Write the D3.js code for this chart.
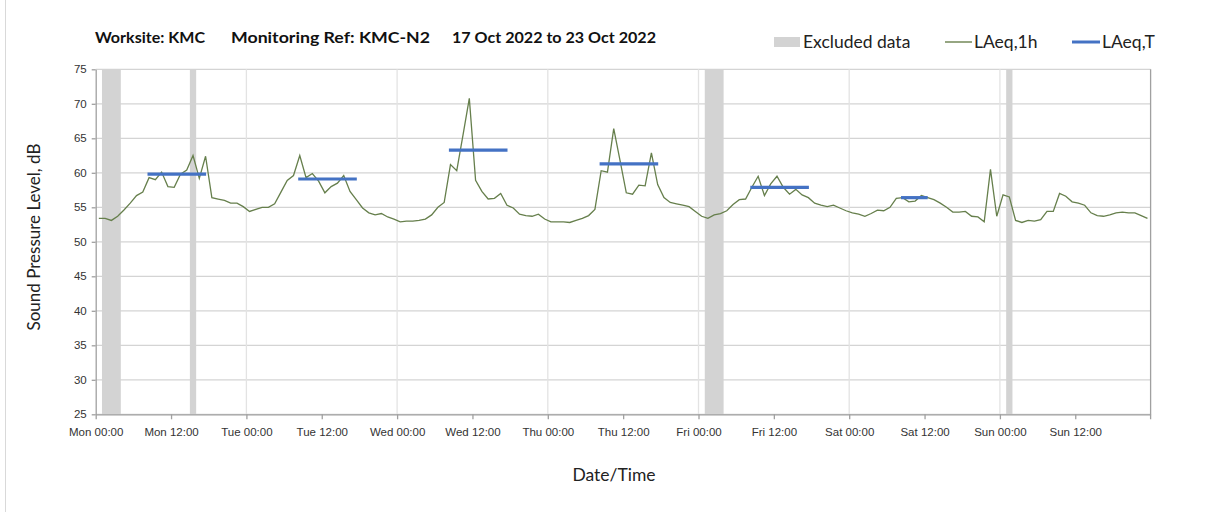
<!DOCTYPE html>
<html>
<head>
<meta charset="utf-8">
<script src="https://cdn.jsdelivr.net/npm/d3@7"></script>
<style>
  body { margin: 0; background: #fff; }
  svg { display: block; font-family: Lato, "Open Sans", sans-serif; }
</style>
</head>
<body>
<div class="container"></div>
<script>
// hourly LAeq,1h values, Mon 17 Oct 00:30 onwards (one per hour, 7 days)
const firstReading = new Date(2022, 9, 17, 0, 30);
const laeq1h = [
  // Mon
  53.4, 53.4, 53.1, 53.7, 54.6, 55.6, 56.7, 57.2, 59.3, 59.0, 60.1, 58.0,
  57.9, 59.8, 60.4, 62.5, 59.2, 62.4, 56.4, 56.2, 56.0, 55.6, 55.6, 55.1,
  // Tue
  54.4, 54.7, 55.0, 55.0, 55.5, 57.2, 58.9, 59.6, 62.5, 59.3, 59.9, 58.8,
  57.1, 58.0, 58.5, 59.6, 57.3, 56.1, 54.9, 54.2, 53.9, 54.1, 53.6, 53.3,
  // Wed
  52.9, 53.0, 53.0, 53.1, 53.3, 53.9, 55.0, 55.7, 61.2, 60.3, 65.5, 70.8,
  58.9, 57.3, 56.2, 56.3, 57.0, 55.3, 54.9, 54.0, 53.8, 53.7, 54.0, 53.3,
  // Thu
  52.9, 52.9, 52.9, 52.8, 53.1, 53.4, 53.8, 54.7, 60.3, 60.1, 66.4, 61.8,
  57.1, 56.9, 58.2, 58.1, 62.9, 58.3, 56.4, 55.7, 55.5, 55.3, 55.1, 54.4,
  // Fri
  53.7, 53.4, 53.9, 54.1, 54.5, 55.4, 56.1, 56.2, 57.9, 59.5, 56.7, 58.4,
  59.5, 57.9, 56.9, 57.6, 56.8, 56.4, 55.6, 55.3, 55.1, 55.3, 54.9, 54.5,
  // Sat
  54.2, 54.0, 53.7, 54.1, 54.6, 54.5, 55.0, 56.3, 56.4, 55.8, 55.9, 56.7,
  56.4, 56.1, 55.6, 55.0, 54.3, 54.3, 54.4, 53.7, 53.6, 52.9, 60.5, 53.7,
  // Sun
  56.8, 56.5, 53.1, 52.8, 53.1, 53.0, 53.2, 54.4, 54.4, 57.0, 56.6, 55.8,
  55.6, 55.3, 54.2, 53.8, 53.7, 53.9, 54.2, 54.3, 54.2, 54.2, 53.8, 53.4
];

// LAeq,T daytime periods
const periodStart = ["2022-10-17T08:15", "2022-10-18T08:15", "2022-10-19T08:15", "2022-10-20T08:15", "2022-10-21T08:15", "2022-10-22T08:15"];
const periodEnd   = ["2022-10-17T17:35", "2022-10-18T17:35", "2022-10-19T17:35", "2022-10-20T17:35", "2022-10-21T17:35", "2022-10-22T12:30"];
const laeqT       = [59.8, 59.1, 63.3, 61.3, 57.9, 56.4];

// excluded data periods
const excludedStart = ["2022-10-17T01:00", "2022-10-17T15:00", "2022-10-21T01:00", "2022-10-23T01:00"];
const excludedEnd   = ["2022-10-17T04:00", "2022-10-17T16:00", "2022-10-21T04:00", "2022-10-23T02:00"];

const yTicks = [25, 30, 35, 40, 45, 50, 55, 60, 65, 70, 75];

const width = 1208;
const height = 512;
const parseTime = d3.timeParse("%Y-%m-%dT%H:%M");

const weekStart = new Date(2022, 9, 17, 0, 0);
const weekEnd = new Date(2022, 9, 24, 0, 0);

const svg = d3.select(".container")
              .append("svg")
              .attr("width", width)
              .attr("height", height);

// outer chart border (left edge visible)
svg.append("line")
   .attr("x1", 5.5).attr("x2", 5.5)
   .attr("y1", 0).attr("y2", height)
   .attr("stroke", "#d9d9d9");

const x = d3.scaleTime().domain([weekStart, weekEnd]).range([95.7, 1150.6]);
const y = d3.scaleLinear().domain([25, 75]).range([414.3, 69.3]);

// horizontal gridlines
svg.append("g")
   .selectAll("line")
   .data(yTicks)
   .enter()
   .append("line")
   .attr("x1", x(weekStart)).attr("x2", x(weekEnd))
   .attr("y1", d => y(d)).attr("y2", d => y(d))
   .attr("stroke", "#d4d4d4")
   .attr("stroke-width", 1.3);

// vertical gridlines at each midnight
const midnights = d3.timeDay.range(d3.timeDay.offset(weekStart, 1), weekEnd);
svg.append("g")
   .selectAll("line")
   .data(midnights)
   .enter()
   .append("line")
   .attr("x1", d => x(d)).attr("x2", d => x(d))
   .attr("y1", y(75)).attr("y2", y(25))
   .attr("stroke", "#e3e3e3")
   .attr("stroke-width", 1.3);

// excluded data bands
svg.append("g")
   .selectAll("rect")
   .data(excludedStart.map((s, i) => [parseTime(s), parseTime(excludedEnd[i])]))
   .enter()
   .append("rect")
   .attr("x", d => x(d[0]))
   .attr("width", d => x(d[1]) - x(d[0]))
   .attr("y", y(75))
   .attr("height", y(25) - y(75))
   .attr("fill", "#d3d3d3");

// LAeq,1h line
const hourly = laeq1h.map((v, i) => ({ t: d3.timeHour.offset(firstReading, i), v: v }));
const line = d3.line().x(d => x(d.t)).y(d => y(d.v));
svg.append("path")
   .datum(hourly)
   .attr("d", line)
   .attr("fill", "none")
   .attr("stroke", "#667f4c")
   .attr("stroke-width", 1.3)
   .attr("stroke-linejoin", "miter");

// LAeq,T bars
svg.append("g")
   .selectAll("line")
   .data(laeqT.map((v, i) => ({ s: parseTime(periodStart[i]), e: parseTime(periodEnd[i]), v: v })))
   .enter()
   .append("line")
   .attr("x1", d => x(d.s)).attr("x2", d => x(d.e))
   .attr("y1", d => y(d.v)).attr("y2", d => y(d.v))
   .attr("stroke", "#4472c4")
   .attr("stroke-width", 3.2);

// axes
const xAxis = d3.axisBottom(x)
                .tickValues(d3.timeHour.every(12).range(weekStart, weekEnd))
                .tickFormat(d3.timeFormat("%a %H:%M"))
                .tickSize(5)
                .tickSizeOuter(0);
const gx = svg.append("g")
   .attr("transform", `translate(0, ${y(25)})`)
   .call(xAxis);
gx.select(".domain").attr("stroke", "#a0a0a0").attr("stroke-width", 1.3);
gx.selectAll(".tick line").attr("stroke", "#a0a0a0").attr("stroke-width", 1.3);
gx.selectAll(".tick text")
  .attr("dy", "1.2em")
  .attr("fill", "#333")
  .style("font-size", "11.5px");

const yAxis = d3.axisLeft(y).tickValues(yTicks).tickSize(4).tickSizeOuter(0);
const gy = svg.append("g")
   .attr("transform", `translate(${x(weekStart)}, 0)`)
   .call(yAxis);
gy.select(".domain").attr("stroke", "#a0a0a0").attr("stroke-width", 1.3);
gy.selectAll(".tick line").attr("stroke", "#a0a0a0").attr("stroke-width", 1.3);
gy.selectAll(".tick text")
  .attr("x", -9)
  .attr("fill", "#333")
  .style("font-size", "11.5px");

// right edge of plot area
svg.append("line")
   .attr("x1", x(weekEnd)).attr("x2", x(weekEnd))
   .attr("y1", y(75)).attr("y2", y(25) + 5)
   .attr("stroke", "#a0a0a0")
   .attr("stroke-width", 1.3);

// title, in three parts
const titleParts = ["Worksite: KMC", "Monitoring Ref: KMC-N2", "17 Oct 2022 to 23 Oct 2022"];
const titleX = [95, 231, 452];
const titleW = [110, 199, 204];
svg.append("g")
   .selectAll("text")
   .data(titleParts)
   .enter()
   .append("text")
   .attr("x", (d, i) => titleX[i]).attr("y", 43)
   .attr("textLength", (d, i) => titleW[i])
   .attr("lengthAdjust", "spacingAndGlyphs")
   .style("font-size", "15.5px")
   .style("font-weight", "bold")
   .attr("fill", "#111")
   .text(d => d);

// axis titles
svg.append("text")
   .attr("x", 614).attr("y", 481)
   .attr("text-anchor", "middle")
   .style("font-size", "17.5px")
   .attr("fill", "#222")
   .text("Date/Time");

svg.append("text")
   .attr("transform", "translate(40, 237) rotate(-90)")
   .attr("text-anchor", "middle")
   .style("font-size", "17px")
   .attr("fill", "#222")
   .text("Sound Pressure Level, dB");

// legend
const legend = svg.append("g").attr("id", "legend");
legend.append("rect")
      .attr("x", 774).attr("y", 37)
      .attr("width", 26).attr("height", 10)
      .attr("fill", "#d3d3d3");
legend.append("text")
      .attr("x", 803).attr("y", 48)
      .style("font-size", "17.5px").attr("fill", "#222")
      .text("Excluded data");
legend.append("line")
      .attr("x1", 945).attr("x2", 972)
      .attr("y1", 42).attr("y2", 42)
      .attr("stroke", "#4f6a2e").attr("stroke-width", 1.2);
legend.append("text")
      .attr("x", 974).attr("y", 48)
      .style("font-size", "17.5px").attr("fill", "#222")
      .text("LAeq,1h");
legend.append("line")
      .attr("x1", 1072).attr("x2", 1100)
      .attr("y1", 42).attr("y2", 42)
      .attr("stroke", "#4472c4").attr("stroke-width", 3);
legend.append("text")
      .attr("x", 1102).attr("y", 48)
      .style("font-size", "17.5px").attr("fill", "#222")
      .text("LAeq,T");
</script>
</body>
</html>
